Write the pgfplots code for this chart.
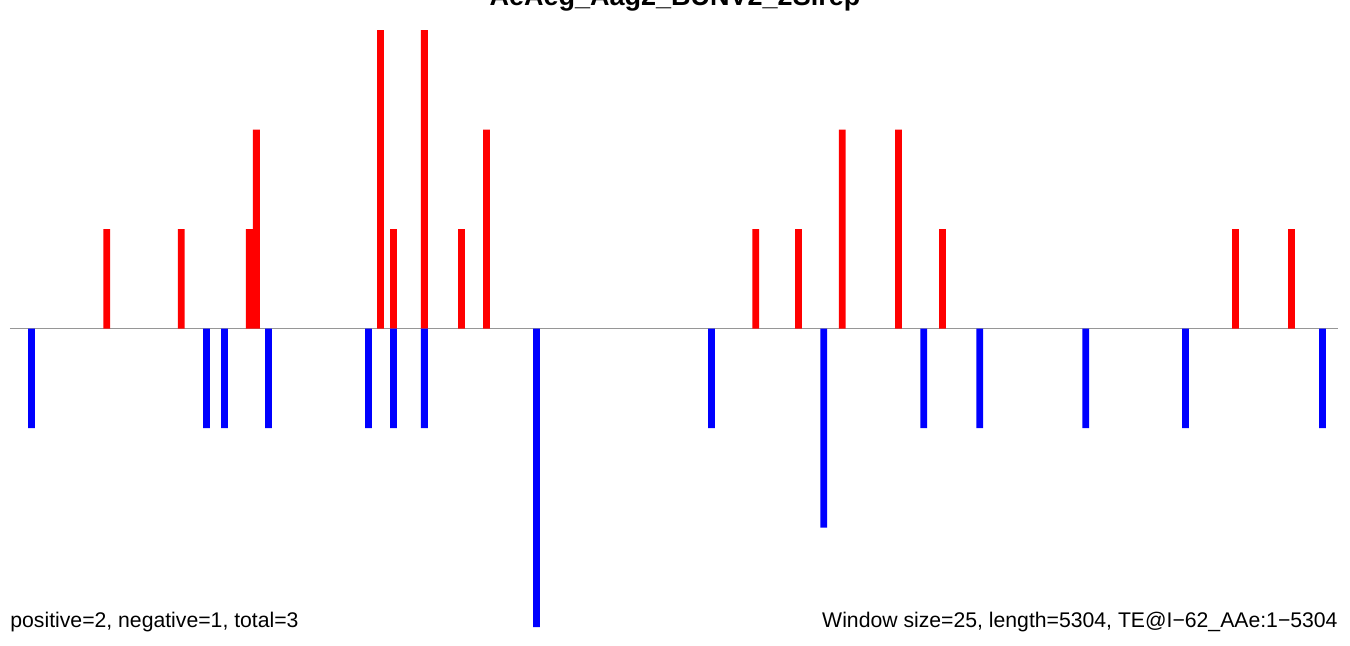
\documentclass[border=0pt]{standalone}
\usepackage{pgfplots}
\pgfplotsset{compat=1.18}
\usepackage{fontspec}
\setmainfont{Liberation Sans}
\definecolor{zline}{RGB}{150,150,150}
\begin{document}
\begin{tikzpicture}
\begin{axis}[
  at={(0pt,0pt)}, anchor=south west,
  width=664pt, height=298.5pt, scale only axis,
  xmin=0, xmax=5304, ymin=-3, ymax=3,
  axis lines=none, ticks=none,
  clip=false,
]
\addplot[zline, line width=0.8pt] coordinates {(0,0) (5304,0)};
\addplot[ybar, bar width=27, bar shift=0pt, fill=red, draw=none] coordinates {
(386,1) (684,1) (956,1) (984,2) (1480,3) (1532,1) (1655,3) (1803,1) (1903,2)
(2978,1) (3149,1) (3324,2) (3549,2) (3724,1) (4895,1) (5118,1)
};
\addplot[ybar, bar width=27, bar shift=0pt, fill=blue, draw=none] coordinates {
(86,-1) (785,-1) (857,-1) (1032,-1) (1432,-1) (1532,-1) (1655,-1) (2103,-3)
(2802,-1) (3250,-2) (3649,-1) (3873,-1) (4296,-1) (4695,-1) (5242,-1)
};
\end{axis}
\node[anchor=base, font=\fontsize{13.5}{16}\selectfont\bfseries, inner sep=0pt] at (332.5pt,311pt) {AeAeg\_Aag2\_BUNV2\_2Slrep};
\node[anchor=base west, font=\fontsize{10.6}{12}\selectfont, inner sep=0pt] at (0pt,0pt) {positive=2, negative=1, total=3};
\node[anchor=base east, font=\fontsize{10.6}{12}\selectfont, inner sep=0pt] at (664pt,0pt) {Window size=25, length=5304, TE@I\char"2212 62\_AAe:1\char"2212 5304};
\pgfresetboundingbox
\path[use as bounding box] (-5pt,-9pt) rectangle (670pt,313.5pt);
\end{tikzpicture}
\end{document}
